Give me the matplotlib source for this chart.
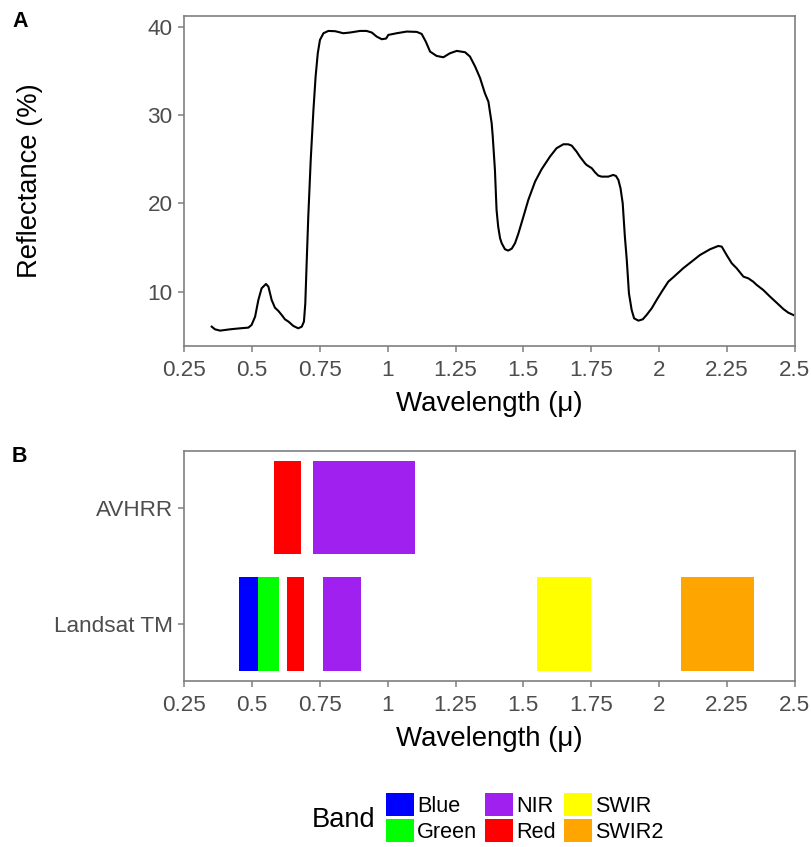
import matplotlib
matplotlib.use("Agg")
import matplotlib.pyplot as plt
from matplotlib.patches import Patch
from matplotlib.ticker import FuncFormatter

plt.rcParams['font.family'] = ['Liberation Sans', 'DejaVu Sans']

# vegetation reflectance spectrum
wavelength = [0.351, 0.363, 0.382, 0.419, 0.455, 0.486, 0.498, 0.511, 0.523, 0.535,
              0.551, 0.560, 0.572, 0.584, 0.597, 0.609, 0.621, 0.634, 0.652, 0.670,
              0.683, 0.691, 0.696, 0.701, 0.707, 0.716, 0.726, 0.734, 0.742, 0.750,
              0.763, 0.781, 0.806, 0.836, 0.861, 0.898, 0.922, 0.941, 0.959, 0.978,
              0.994, 1.002, 1.033, 1.070, 1.107, 1.125, 1.140, 1.156, 1.180, 1.205,
              1.229, 1.254, 1.285, 1.303, 1.322, 1.340, 1.358, 1.371, 1.383, 1.387,
              1.395, 1.401, 1.407, 1.414, 1.420, 1.432, 1.444, 1.457, 1.469, 1.481,
              1.500, 1.518, 1.543, 1.567, 1.598, 1.622, 1.647, 1.665, 1.678, 1.696,
              1.708, 1.727, 1.733, 1.752, 1.764, 1.776, 1.788, 1.813, 1.831, 1.841,
              1.850, 1.858, 1.866, 1.874, 1.881, 1.889, 1.899, 1.908, 1.924, 1.940,
              1.954, 1.973, 1.991, 2.010, 2.034, 2.059, 2.089, 2.120, 2.151, 2.188,
              2.218, 2.231, 2.249, 2.268, 2.286, 2.311, 2.329, 2.347, 2.360, 2.384,
              2.409, 2.433, 2.458, 2.476, 2.495]
reflectance = [6.04, 5.74, 5.59, 5.74, 5.85, 5.93, 6.23, 7.17, 9.06, 10.38,
               10.87, 10.57, 9.06, 8.19, 7.81, 7.36, 6.87, 6.61, 6.12, 5.85,
               6.04, 6.61, 8.68, 13.21, 18.49, 24.91, 30.57, 34.34, 36.98, 38.49,
               39.25, 39.51, 39.48, 39.25, 39.33, 39.51, 39.51, 39.33, 38.87, 38.57,
               38.65, 39.06, 39.25, 39.44, 39.40, 39.17, 38.31, 37.17, 36.68, 36.53,
               36.98, 37.25, 37.10, 36.61, 35.48, 34.20, 32.46, 31.50, 29.06, 27.55,
               23.78, 19.25, 17.36, 16.04, 15.48, 14.80, 14.65, 14.87, 15.48, 16.53,
               18.49, 20.38, 22.46, 23.85, 25.29, 26.23, 26.68, 26.68, 26.53, 25.85,
               25.29, 24.53, 24.34, 23.97, 23.51, 23.14, 23.02, 23.02, 23.21, 23.10,
               22.65, 21.70, 20.00, 16.23, 13.59, 9.81, 7.93, 6.98, 6.72, 6.87,
               7.36, 8.12, 9.06, 10.00, 11.13, 11.81, 12.65, 13.40, 14.15, 14.80,
               15.17, 15.10, 14.15, 13.21, 12.65, 11.70, 11.51, 11.13, 10.76, 10.19,
               9.44, 8.76, 8.04, 7.63, 7.36]

# sensor bands (micrometres)
sensors = ['Landsat TM', 'AVHRR']
band_sensor = ['Landsat TM', 'Landsat TM', 'Landsat TM', 'Landsat TM', 'Landsat TM',
               'Landsat TM', 'AVHRR', 'AVHRR']
band_name = ['Blue', 'Green', 'Red', 'NIR', 'SWIR', 'SWIR2', 'Red', 'NIR']
band_start = [0.45, 0.52, 0.63, 0.76, 1.55, 2.08, 0.58, 0.725]
band_end = [0.52, 0.60, 0.69, 0.90, 1.75, 2.35, 0.68, 1.10]

band_levels = ['Blue', 'Green', 'NIR', 'Red', 'SWIR', 'SWIR2']
band_colors = {'Blue': '#0000FF', 'Green': '#00FF00', 'NIR': '#A020F0',
               'Red': '#FF0000', 'SWIR': '#FFFF00', 'SWIR2': '#FFA500'}

xticks = [0.25, 0.5, 0.75, 1, 1.25, 1.5, 1.75, 2, 2.25, 2.5]

W, H = 812, 847
fig = plt.figure(figsize=(W / 100, H / 100), dpi=100)

ax1 = fig.add_axes([184.3 / W, 1 - 346 / H, 610.4 / W, 330 / H])
ax2 = fig.add_axes([184.3 / W, 1 - 681 / H, 610.4 / W, 230.3 / H])


def style(ax):
    for s in ax.spines.values():
        s.set_color('#7F7F7F')
        s.set_linewidth(1.2)
    ax.tick_params(colors='#7F7F7F', labelcolor='#4D4D4D', labelsize=16.2,
                   length=4.3, width=1.1)
    ax.tick_params(axis='x', pad=6)
    ax.tick_params(axis='y', pad=4)
    ax.set_xlim(0.25, 2.5)
    ax.set_xticks(xticks)
    ax.xaxis.set_major_formatter(FuncFormatter(lambda v, p: f'{v:g}'))
    ax.set_xlabel('Wavelength (μ)', fontsize=19.9, labelpad=7)


# A: spectrum
ax1.plot(wavelength, reflectance, color='black', lw=1.5, solid_joinstyle='round')
style(ax1)
ax1.set_ylim(3.85, 41.2)
ax1.set_yticks([10, 20, 30, 40])
ax1.set_ylabel('Reflectance (%)', fontsize=19.7)
ax1.yaxis.set_label_coords((43 - 184.3) / 610.4, 0.5)

# B: sensor bands
ypos = [sensors.index(s) + 1 for s in band_sensor]
widths = [e - s for s, e in zip(band_start, band_end)]
ax2.barh(ypos, widths, left=band_start, height=0.8,
         color=[band_colors[b] for b in band_name], linewidth=0)
style(ax2)
ax2.set_ylim(0.51, 2.49)
ax2.set_yticks([1, 2])
ax2.set_yticklabels(sensors)

fig.text(12 / W, 1 - 11 / H, 'A', fontsize=15.5, fontweight='bold', va='top')
fig.text(12 / W, 1 - 446 / H, 'B', fontsize=15.5, fontweight='bold', va='top')

handles = [Patch(facecolor=band_colors[b], edgecolor='none', label=b) for b in band_levels]
fig.legend(handles=handles, ncol=3, loc='center left',
           bbox_to_anchor=(386 / W, 1 - 818 / H), frameon=False,
           fontsize=15.6, handlelength=1.29, handleheight=1.29,
           handletextpad=0.15, columnspacing=0.36, labelspacing=0.09,
           borderpad=0, borderaxespad=0)
fig.text(312 / W, 1 - 827 / H, 'Band', fontsize=19.6, va='baseline')

fig.savefig('out.png', dpi=100)
